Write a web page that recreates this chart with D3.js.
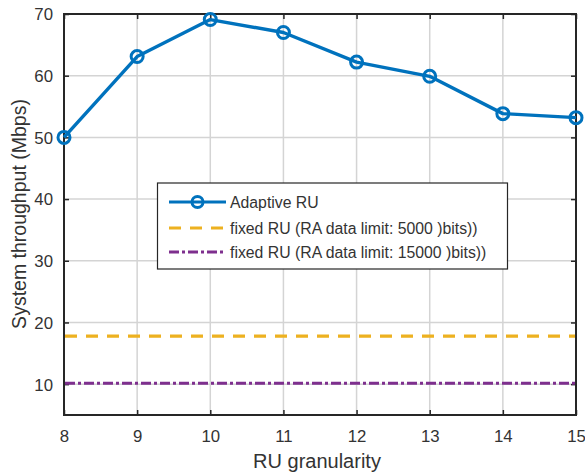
<!DOCTYPE html>
<html><head><meta charset="utf-8">
<script src="https://cdn.jsdelivr.net/npm/d3@7"></script>
<style>body{margin:0;background:#fff;} svg{display:block;font-family:"Liberation Sans",Arial,Helvetica,sans-serif;}</style>
</head><body>
<svg id="c" width="585" height="474"></svg>
<script>
const xValues = [8, 9, 10, 11, 12, 13, 14, 15];
const adaptiveRU = [50, 63.1, 69.1, 67, 62.2, 59.9, 53.85, 53.2];
const fixed5000 = 17.8;
const fixed15000 = 10.15;
const xTicks = [8, 9, 10, 11, 12, 13, 14, 15];
const yTicks = [10, 20, 30, 40, 50, 60, 70];
const legendLabels = ["Adaptive RU", "fixed RU (RA data limit: 5000 )bits))", "fixed RU (RA data limit: 15000 )bits))"];
const colors = ["#0072BD", "#EDB120", "#7E2F8E"];

const svg = d3.select("#c");
const L = 64, R = 576, T = 14, B = 415;
const x = d3.scaleLinear().domain([8, 15]).range([L, R]);
const y = d3.scaleLinear().domain([5, 70]).range([B, T]);
const axisCol = "#262626", textCol = "#333", gridCol = "#d4d4d4";

// grid
svg.append("g").selectAll("line").data(xTicks).join("line")
  .attr("x1", d => x(d)).attr("x2", d => x(d)).attr("y1", T).attr("y2", B)
  .attr("stroke", gridCol).attr("stroke-width", 1.5);
svg.append("g").selectAll("line").data(yTicks).join("line")
  .attr("y1", d => y(d)).attr("y2", d => y(d)).attr("x1", L).attr("x2", R)
  .attr("stroke", gridCol).attr("stroke-width", 1.5);

// axes (inward ticks)
const fmt = d3.format("d");
const gx = svg.append("g").attr("transform", `translate(0,${B})`)
  .call(d3.axisBottom(x).tickValues(xTicks).tickFormat(fmt).tickSizeInner(-5).tickSizeOuter(0).tickPadding(15));
const gxt = svg.append("g").attr("transform", `translate(0,${T})`)
  .call(d3.axisTop(x).tickValues(xTicks).tickFormat("").tickSizeInner(-5).tickSizeOuter(0));
const gy = svg.append("g").attr("transform", `translate(${L},0)`)
  .call(d3.axisLeft(y).tickValues(yTicks).tickFormat(fmt).tickSizeInner(-5).tickSizeOuter(0).tickPadding(11));
const gyr = svg.append("g").attr("transform", `translate(${R},0)`)
  .call(d3.axisRight(y).tickValues(yTicks).tickFormat("").tickSizeInner(-5).tickSizeOuter(0));
[gx, gxt, gy, gyr].forEach(g => {
  g.select(".domain").remove();
  g.selectAll(".tick line").attr("stroke", axisCol).attr("stroke-width", 1.5);
  g.selectAll("text").attr("fill", textCol).attr("font-size", 16.8).attr("font-family", '"Liberation Sans",Arial,sans-serif');
});
gy.selectAll("text").attr("dy", "0.35em");

// box
svg.append("rect").attr("x", L).attr("y", T).attr("width", R - L).attr("height", B - T)
  .attr("fill", "none").attr("stroke", axisCol).attr("stroke-width", 2);

// fixed lines
svg.append("line").attr("x1", L + 1).attr("x2", R - 1).attr("y1", y(fixed5000)).attr("y2", y(fixed5000))
  .attr("stroke", colors[1]).attr("stroke-width", 3.2).attr("stroke-dasharray", "12,9");
svg.append("line").attr("x1", L + 1).attr("x2", R - 1).attr("y1", y(fixed15000)).attr("y2", y(fixed15000))
  .attr("stroke", colors[2]).attr("stroke-width", 3.2).attr("stroke-dasharray", "10,3,3,3");

// adaptive line
const line = d3.line().x((d, i) => x(xValues[i])).y(d => y(d));
svg.append("path").datum(adaptiveRU).attr("d", line)
  .attr("fill", "none").attr("stroke", colors[0]).attr("stroke-width", 3.4).attr("stroke-linejoin", "round");
svg.append("g").selectAll("circle").data(adaptiveRU).join("circle")
  .attr("cx", (d, i) => x(xValues[i])).attr("cy", d => y(d)).attr("r", 6)
  .attr("fill", "none").attr("stroke", colors[0]).attr("stroke-width", 3);

// axis labels
svg.append("text").attr("x", 317).attr("y", 468).attr("text-anchor", "middle")
  .attr("fill", textCol).attr("font-size", 20).text("RU granularity");
svg.append("text").attr("transform", `translate(26,214) rotate(-90)`).attr("text-anchor", "middle")
  .attr("fill", textCol).attr("font-size", 19.5).text("System throughput (Mbps)");

// legend
const lg = svg.append("g");
lg.append("rect").attr("x", 157.5).attr("y", 183).attr("width", 350).attr("height", 86)
  .attr("fill", "#fff").attr("stroke", axisCol).attr("stroke-width", 1.2);
const rows = [202, 228, 252];
const dashes = [null, "12,9", "10,3,3,3"];
rows.forEach((ry, i) => {
  lg.append("line").attr("x1", 169).attr("x2", 226).attr("y1", ry).attr("y2", ry)
    .attr("stroke", colors[i]).attr("stroke-width", 3.2).attr("stroke-dasharray", dashes[i]);
  if (i === 0) lg.append("circle").attr("cx", 197.5).attr("cy", ry).attr("r", 5.5)
    .attr("fill", "none").attr("stroke", colors[0]).attr("stroke-width", 3);
  lg.append("text").attr("x", 230).attr("y", ry).attr("dy", "0.35em")
    .attr("fill", textCol).attr("font-size", 15.8).text(legendLabels[i]);
});
</script>
</body></html>
